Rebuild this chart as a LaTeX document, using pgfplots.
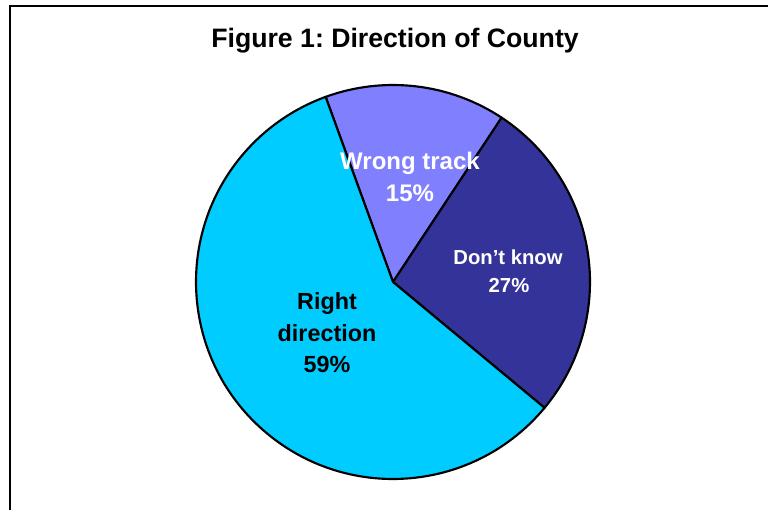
\documentclass[border=0pt]{standalone}
\usepackage{pgfplots}
\usepackage{pgfplotstable}
\pgfplotsset{compat=1.18}
\usepackage{fontspec}
\setmainfont{Liberation Sans}
\frenchspacing

\definecolor{rightc}{HTML}{00CCFF}
\definecolor{wrongc}{HTML}{8080FF}
\definecolor{dontc}{HTML}{333399}

% slice values in percent, clockwise from the top-left edge
\pgfplotstableread[col sep=comma]{
slice,value
Wrong track,15
Dont know,27
Right direction,59
}\piedata

\begin{document}
\begin{tikzpicture}[x=0.75pt,y=0.75pt]
\pgfplotstablegetelem{0}{value}\of\piedata \let\va\pgfplotsretval
\pgfplotstablegetelem{1}{value}\of\piedata \let\vb\pgfplotsretval
\pgfplotstablegetelem{2}{value}\of\piedata \let\vc\pgfplotsretval
\pgfmathsetmacro\tot{\va+\vb+\vc}
\pgfmathsetmacro\aA{110}
\pgfmathsetmacro\aB{\aA-360*\va/\tot}
\pgfmathsetmacro\aC{\aB-360*\vb/\tot}
\pgfmathsetmacro\aD{\aA-360}
\def\R{147.75pt}
\begin{axis}[at={(0,0)},anchor=south west,scale only axis,
  width=576pt,height=382.5pt,
  xmin=0,xmax=768,ymin=0,ymax=510,
  hide axis,clip=false]
  % frame
  \draw[line width=1.5pt] (axis cs:10,-20) -- (axis cs:10,504) -- (axis cs:800,504);
  % wedges
  \filldraw[fill=wrongc,draw=black,line width=1.6pt,line join=round]
    (axis cs:393,228) -- ++(\aA:\R) arc[start angle=\aA,end angle=\aB,radius=\R] -- cycle;
  \filldraw[fill=dontc,draw=black,line width=1.6pt,line join=round]
    (axis cs:393,228) -- ++(\aB:\R) arc[start angle=\aB,end angle=\aC,radius=\R] -- cycle;
  \filldraw[fill=rightc,draw=black,line width=1.6pt,line join=round]
    (axis cs:393,228) -- ++(\aC:\R) arc[start angle=\aC,end angle=\aD,radius=\R] -- cycle;
  % title
  \node[anchor=base,font=\bfseries\fontsize{20pt}{20pt}\selectfont]
    at (axis cs:395,462) {Figure 1: Direction of County};
  % labels
  \node[anchor=base,text=white,font=\bfseries\fontsize{18pt}{18pt}\selectfont]
    at (axis cs:410,340) {Wrong track};
  \node[anchor=base,text=white,font=\bfseries\fontsize{18pt}{18pt}\selectfont]
    at (axis cs:410,308.3) {15\%};
  \node[anchor=base,text=white,font=\bfseries\fontsize{15.2pt}{15.2pt}\selectfont]
    at (axis cs:508,245) {Don’t know};
  \node[anchor=base,text=white,font=\bfseries\fontsize{15.2pt}{15.2pt}\selectfont]
    at (axis cs:509,217.3) {27\%};
  \node[anchor=base,font=\bfseries\fontsize{17.5pt}{17.5pt}\selectfont]
    at (axis cs:327,200) {Right};
  \node[anchor=base,font=\bfseries\fontsize{17.5pt}{17.5pt}\selectfont]
    at (axis cs:327,168.3) {direction};
  \node[anchor=base,font=\bfseries\fontsize{17.5pt}{17.5pt}\selectfont]
    at (axis cs:327,137.3) {59\%};
\end{axis}
\pgfresetboundingbox
\path (0,0) rectangle (768,510);
\end{tikzpicture}
\end{document}
